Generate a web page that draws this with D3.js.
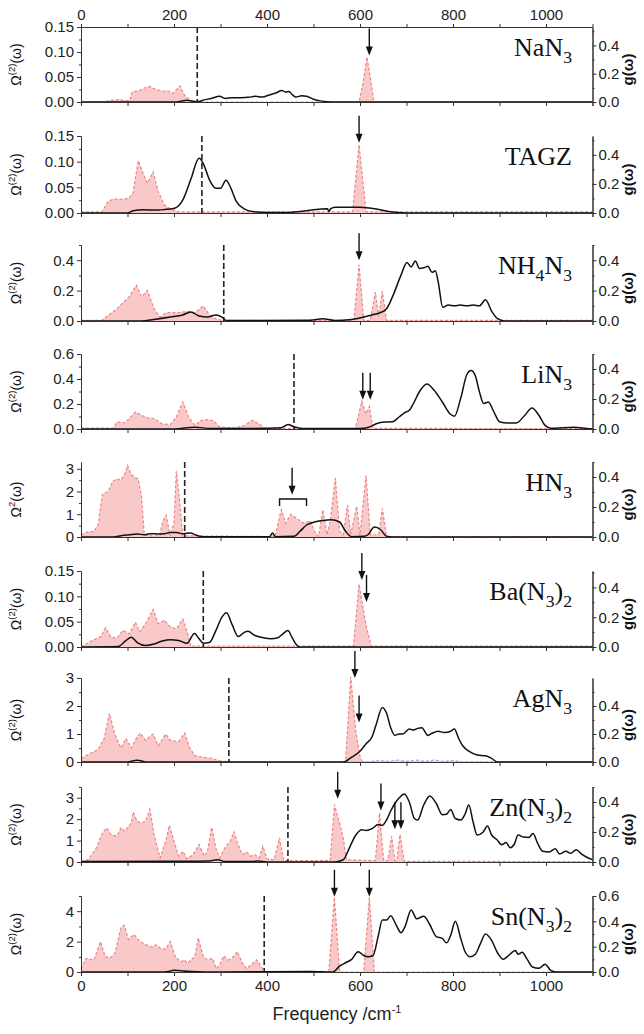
<!DOCTYPE html>
<html>
<head>
<meta charset="utf-8">
<script src="https://cdn.jsdelivr.net/npm/d3@7"></script>
<style>
  body { margin: 0; background: #fff; }
  text { font-family: "Liberation Sans", Arial, sans-serif; }
</style>
</head>
<body>
<svg id="chart" width="644" height="1034"></svg>
<script>
// ---------------- data ----------------
// Each series: [frequency (cm^-1), value]. Omega = two-phonon density (left axis), g = phonon DOS (right axis).
const compounds = ["NaN_3", "TAGZ", "NH_4N_3", "LiN_3", "HN_3", "Ba(N_3)_2", "AgN_3", "Zn(N_3)_2", "Sn(N_3)_2"];

const naN3Omega = [[0,0],[50,0],[62,0.003],[80,0.005],[95,0.003],[105,0.003],[110,0.02],[125,0.023],[139,0.029],[148,0.031],[161,0.025],[175,0.022],[188,0.022],[197,0.017],[213,0.032],[223,0.013],[236,0.003],[245,0],[598,0],[607,0.04],[615,0.09],[622,0.05],[630,0],[1100,0]];
const naN3G = [[0,0],[200,0],[215,0.005],[228,0.012],[240,0.005],[250,0.002],[265,0.015],[280,0.025],[298,0.04],[310,0.025],[325,0.03],[345,0.03],[360,0.033],[375,0.04],[390,0.035],[405,0.05],[420,0.065],[432,0.082],[440,0.07],[447,0.075],[455,0.05],[462,0.035],[475,0.045],[485,0.04],[500,0.02],[515,0.008],[530,0.002],[545,0],[1100,0]];

const tagzOmega = [[0,0.002],[45,0.002],[50,0.01],[59,0.023],[70,0.027],[95,0.027],[104,0.03],[112,0.039],[123,0.102],[135,0.074],[143,0.058],[155,0.08],[166,0.042],[179,0.016],[192,0.008],[210,0.002],[584,0.002],[598,0.133],[613,0.002],[1100,0.002]];
const tagzG = [[0,0],[100,0],[112,0.015],[135,0.022],[150,0.02],[166,0.02],[183,0.025],[201,0.032],[219,0.09],[236,0.23],[254,0.376],[263,0.34],[276,0.23],[290,0.17],[300,0.17],[312,0.225],[321,0.18],[334,0.08],[352,0.027],[369,0.01],[400,0.003],[440,0.003],[511,0.025],[530,0.03],[533,0.01],[537,0.03],[547,0.04],[600,0.04],[635,0.028],[662,0.01],[700,0],[1100,0]];

const nh4N3Omega = [[0,0.004],[45,0.004],[49,0.015],[77,0.08],[104,0.16],[119,0.235],[130,0.16],[143,0.2],[157,0.08],[170,0.026],[183,0.055],[210,0.055],[228,0.064],[245,0.055],[263,0.1],[276,0.04],[290,0.015],[303,0.004],[587,0.004],[598,0.37],[608,0.004],[622,0.004],[633,0.19],[640,0.03],[648,0.195],[657,0.004],[1100,0.004]];
const nh4N3G = [[0,0],[130,0],[157,0.01],[192,0.026],[219,0.04],[236,0.06],[254,0.033],[272,0.026],[290,0.04],[303,0.026],[312,0.004],[400,0.003],[493,0.005],[520,0.015],[545,0.004],[582,0.01],[600,0.02],[626,0.04],[644,0.055],[657,0.08],[670,0.16],[688,0.3],[701,0.385],[710,0.356],[719,0.395],[728,0.345],[737,0.35],[746,0.36],[755,0.32],[762,0.33],[768,0.26],[778,0.09],[790,0.105],[803,0.1],[816,0.105],[830,0.1],[843,0.105],[857,0.1],[870,0.14],[883,0.065],[896,0.015],[910,0],[1100,0]];

const liN3Omega = [[0,0.008],[70,0.008],[77,0.056],[95,0.05],[117,0.136],[130,0.11],[143,0.09],[157,0.083],[175,0.04],[192,0.035],[205,0.096],[219,0.216],[232,0.09],[245,0.03],[259,0.07],[272,0.075],[285,0.065],[298,0.016],[334,0.01],[352,0.03],[369,0.07],[383,0.04],[396,0.003],[590,0.003],[604,0.22],[613,0.12],[620,0.18],[628,0.005],[1100,0.003]];
const liN3G = [[0,0],[200,0],[245,0.012],[280,0.003],[352,0.003],[431,0.008],[445,0.03],[458,0.015],[476,0.004],[600,0.003],[617,0.01],[635,0.035],[653,0.046],[670,0.048],[684,0.08],[697,0.11],[706,0.125],[715,0.17],[728,0.25],[744,0.3],[759,0.26],[777,0.18],[794,0.1],[803,0.085],[817,0.21],[830,0.365],[839,0.39],[848,0.355],[857,0.246],[866,0.17],[876,0.18],[887,0.12],[901,0.046],[918,0.04],[936,0.04],[954,0.09],[970,0.14],[985,0.09],[998,0.024],[1011,0.005],[1060,0.012],[1087,0.004],[1100,0]];

const hN3Omega = [[0,0.1],[11,0.2],[28,0.25],[37,0.55],[46,1.87],[52,1.95],[59,2.0],[68,2.45],[77,2.55],[86,2.5],[95,2.8],[100,3.15],[108,2.75],[117,2.6],[123,2.55],[130,1.8],[136,0.1],[157,0.03],[170,0.1],[176,0.72],[183,0.95],[192,0.05],[200,0.6],[205,2.9],[212,1.6],[219,0.05],[405,0.02],[418,0.05],[427,0.9],[431,1.2],[440,0.6],[451,1.0],[458,0.9],[467,0.77],[480,0.6],[493,0.72],[502,0.25],[511,0.03],[520,1.2],[529,0.1],[536,0.7],[547,2.6],[556,0.25],[564,0.1],[573,1.4],[580,0.1],[593,1.35],[600,0.1],[613,2.7],[622,0.1],[640,0.1],[648,1.25],[657,0.02],[1100,0.02]];
const hN3G = [[0,0],[70,0],[86,0.009],[104,0.015],[121,0.02],[136,0.015],[148,0.022],[166,0.02],[179,0.022],[192,0.03],[205,0.03],[219,0.022],[236,0.027],[245,0.015],[263,0.002],[405,0.002],[412,0.027],[418,0.002],[458,0.005],[471,0.038],[485,0.08],[502,0.1],[520,0.11],[538,0.115],[556,0.1],[569,0.038],[582,0.002],[609,0.005],[617,0.015],[631,0.066],[644,0.05],[657,0.005],[670,0],[1100,0]];

const baN32Omega = [[0,0],[6,0.003],[24,0.013],[42,0.02],[53,0.038],[64,0.02],[77,0.017],[90,0.033],[104,0.026],[117,0.049],[126,0.03],[139,0.046],[155,0.074],[166,0.046],[179,0.053],[192,0.04],[205,0.036],[219,0.055],[228,0.03],[236,0.002],[586,0.002],[598,0.124],[613,0.043],[624,0.002],[1100,0.002]];
const baN32G = [[0,0],[80,0.003],[97,0.044],[108,0.066],[121,0.03],[139,0.01],[157,0.02],[175,0.04],[192,0.048],[210,0.044],[228,0.025],[244,0.09],[254,0.055],[263,0.026],[276,0.03],[290,0.11],[303,0.2],[313,0.23],[325,0.15],[338,0.07],[352,0.1],[359,0.105],[374,0.077],[392,0.062],[409,0.055],[423,0.062],[433,0.085],[445,0.11],[453,0.07],[462,0.02],[471,0],[1100,0]];

const agN3Omega = [[0,0.13],[15,0.26],[37,0.45],[50,0.84],[61,1.74],[73,0.97],[86,0.5],[97,0.84],[108,0.5],[121,0.9],[128,1.03],[139,0.77],[155,1.0],[166,0.58],[182,1.0],[192,0.77],[210,0.73],[223,1.03],[234,0.5],[245,0.22],[263,0.17],[281,0.13],[298,0.04],[316,0],[569,0],[580,3.03],[591,1.1],[600,0.2],[605,0],[1100,0]];
const agN3G = [[0,0],[100,0],[121,0.013],[140,0],[564,0],[582,0.034],[600,0.077],[613,0.13],[626,0.18],[635,0.27],[648,0.39],[657,0.35],[666,0.245],[675,0.19],[684,0.2],[692,0.2],[706,0.235],[715,0.228],[724,0.24],[733,0.245],[746,0.19],[755,0.205],[768,0.22],[781,0.21],[795,0.22],[803,0.235],[812,0.17],[821,0.116],[834,0.077],[852,0.05],[870,0.044],[883,0.026],[896,0],[1100,0]];
const agN3Partial = [[560,0],[620,0],[640,0.01],[660,0.004],[680,0.012],[700,0.005],[720,0.012],[740,0.005],[760,0.012],[780,0.004],[800,0.01],[820,0],[1100,0]];

const znN32Omega = [[0,0.03],[15,0.1],[33,0.65],[46,1.35],[55,1.59],[64,1.28],[77,1.2],[86,1.59],[95,1.43],[102,1.66],[108,1.82],[112,2.33],[121,1.9],[130,1.82],[139,1.9],[148,2.45],[157,1.28],[170,0.19],[182,0.96],[190,1.71],[199,1.04],[210,0.27],[219,0.5],[228,0.15],[241,0.34],[254,0.81],[265,0.27],[272,0.5],[281,1.62],[290,0.65],[298,0.19],[309,0.65],[321,0.96],[329,1.4],[338,0.8],[347,0.34],[356,0.47],[365,0.27],[374,0.34],[383,0.19],[391,0.73],[400,0.15],[415,0.1],[427,1.12],[436,0.06],[536,0.06],[545,2.68],[556,1.82],[564,1.12],[571,0.1],[633,0.06],[642,2.29],[651,0.06],[660,0.06],[668,1.2],[675,0.06],[679,0.06],[686,1.28],[695,0.03],[1100,0.02]];
const znN32G = [[0,0.003],[200,0.005],[254,0.005],[272,0.006],[294,0.015],[310,0.003],[369,0.003],[380,0.006],[400,0],[546,0],[564,0.015],[577,0.093],[591,0.18],[604,0.215],[613,0.21],[626,0.222],[639,0.25],[648,0.244],[657,0.28],[666,0.34],[675,0.39],[684,0.426],[695,0.453],[706,0.4],[717,0.29],[724,0.28],[737,0.38],[750,0.44],[764,0.39],[777,0.315],[786,0.318],[795,0.35],[805,0.29],[817,0.28],[826,0.32],[834,0.38],[843,0.27],[852,0.18],[865,0.2],[874,0.24],[883,0.18],[894,0.15],[905,0.115],[914,0.13],[923,0.095],[932,0.12],[940,0.18],[952,0.166],[963,0.164],[972,0.19],[982,0.125],[993,0.071],[1007,0.067],[1020,0.089],[1029,0.053],[1043,0.071],[1053,0.058],[1065,0.082],[1078,0.049],[1091,0.027],[1100,0.016]];

const snN32Omega = [[0,0.22],[11,0.9],[28,0.79],[42,2.0],[52,1.0],[64,0.95],[73,1.24],[86,2.9],[93,3.08],[102,2.13],[108,2.3],[114,2.47],[126,2.02],[139,1.8],[152,1.64],[161,1.8],[170,1.57],[182,1.5],[192,2.0],[203,1.0],[214,0.67],[223,0.79],[229,0.56],[236,0.79],[245,1.0],[252,2.25],[263,1.0],[272,0.79],[283,0.9],[291,0.22],[298,0.45],[307,1.06],[316,0.79],[325,0.9],[336,1.35],[347,0.6],[356,0.22],[369,0.56],[378,0.79],[387,0.38],[396,0],[533,0],[545,4.9],[556,0],[608,0],[620,4.9],[631,0],[1100,0]];
const snN32G = [[0,0],[180,0],[201,0.013],[236,0.004],[300,0],[493,0.004],[542,0],[556,0.046],[569,0.073],[582,0.1],[596,0.16],[608,0.13],[617,0.12],[628,0.13],[639,0.28],[648,0.41],[657,0.41],[666,0.445],[678,0.37],[688,0.31],[697,0.36],[710,0.49],[722,0.42],[737,0.44],[750,0.375],[764,0.28],[777,0.265],[786,0.23],[795,0.29],[805,0.4],[817,0.26],[826,0.16],[837,0.12],[848,0.14],[858,0.216],[870,0.3],[883,0.25],[896,0.15],[908,0.1],[918,0.125],[934,0.17],[940,0.14],[949,0.155],[958,0.11],[971,0.04],[985,0.03],[998,0.062],[1011,0.01],[1025,0],[1100,0]];

const omegaSeries = [naN3Omega, tagzOmega, nh4N3Omega, liN3Omega, hN3Omega, baN32Omega, agN3Omega, znN32Omega, snN32Omega];
const gSeries = [naN3G, tagzG, nh4N3G, liN3G, hN3G, baN32G, agN3G, znN32G, snN32G];

// Cut-off frequency marked by the vertical dashed line (cm^-1)
const cutoffFreq = [250, 260, 307, 458, 223, 263, 318, 445, 394];

// Arrows: [frequency, Omega value at the arrow tip]
const arrowMarks = [
  [[620, 0.093]],
  [[598, 0.137]],
  [[598, 0.4]],
  [[606, 0.235], [622, 0.235]],
  [[454, 1.86]],
  [[604, 0.132], [614, 0.089]],
  [[589, 3.0], [598, 1.41]],
  [[552, 2.95], [645, 2.4], [675, 1.53], [688, 1.53]],
  [[545, 4.95], [620, 4.95]]
];
// HN3 bracket: [from, to, Omega level]
const hn3Bracket = [427, 485, 1.67];

const leftMax = [0.15, 0.15, 0.5, 0.6, 3.3, 0.15, 3, 3.5, 5];
const rightMax = [0.53, 0.53, 0.5, 0.5, 0.5, 0.51, 0.6, 0.5, 0.6];
const leftTickLabels = [
  ["0.00", "0.05", "0.10", "0.15"],
  ["0.00", "0.05", "0.10", "0.15"],
  ["0.0", "0.2", "0.4"],
  ["0.0", "0.2", "0.4", "0.6"],
  ["0", "1", "2", "3"],
  ["0.00", "0.05", "0.10", "0.15"],
  ["0", "1", "2", "3"],
  ["0", "1", "2", "3"],
  ["0", "2", "4"]
];
const rightTickLabels = [
  ["0.0", "0.2", "0.4"], ["0.0", "0.2", "0.4"], ["0.0", "0.2", "0.4"],
  ["0.0", "0.2", "0.4"], ["0.0", "0.2", "0.4"], ["0.0", "0.2", "0.4"],
  ["0.0", "0.2", "0.4"], ["0.0", "0.2", "0.4"], ["0.0", "0.2", "0.4", "0.6"]
];
const freqTickLabels = ["0", "200", "400", "600", "800", "1000"];

// ---------------- layout ----------------
const svg = d3.select("#chart");
const plotLeft = 81, plotRight = 592.5;
const panelTop = [27, 136, 245, 354, 462, 571, 678, 787, 896];
const panelBottom = [102, 213, 321, 429, 537, 647, 762, 862, 972];

const x = d3.scaleLinear().domain([0, 1100]).range([plotLeft, plotRight]);
const freqMajor = freqTickLabels.map(Number);
const freqMinor = d3.range(100, 1101, 200);

const pinkFill = "#f9c8c8";
const pinkLine = "#ee8585";

function styleAxis(g, fontSize) {
  g.select(".domain").attr("stroke", "#333").attr("stroke-width", 1);
  g.selectAll(".tick line").attr("stroke", "#333").attr("stroke-width", 1);
  g.selectAll(".tick text").attr("fill", "#222").style("font-size", fontSize + "px")
    .style("font-family", "'Liberation Sans', Arial, sans-serif");
}

function drawFormula(sel, str, baseSize) {
  // "_d" marks a subscript character
  const parts = [];
  for (let i = 0; i < str.length; i++) {
    if (str[i] === "_") { parts.push({ t: str[i + 1], sub: true }); i++; }
    else parts.push({ t: str[i], sub: false });
  }
  let prevSub = false;
  const shift = Math.round(baseSize * 0.25);
  parts.forEach(p => {
    const ts = sel.append("tspan").text(p.t);
    if (p.sub) { ts.attr("font-size", baseSize * 0.68).attr("dy", prevSub ? 0 : shift); }
    else if (prevSub) { ts.attr("dy", -shift); }
    prevSub = p.sub;
  });
}

const areaGen = (y) => d3.area().x(d => x(d[0])).y0(y(0)).y1(d => y(d[1]));
const lineGen = (y, curve) => d3.line().x(d => x(d[0])).y(d => y(d[1])).curve(curve);

compounds.forEach((name, i) => {
  const top = panelTop[i], bottom = panelBottom[i];
  const yL = d3.scaleLinear().domain([0, leftMax[i]]).range([bottom, top]);
  const yR = d3.scaleLinear().domain([0, rightMax[i]]).range([bottom, top]);
  const g = svg.append("g");

  // two-phonon density: filled pink with dashed outline
  g.append("path").datum(omegaSeries[i]).attr("d", areaGen(yL))
    .attr("fill", pinkFill).attr("stroke", "none");
  g.append("path").datum(omegaSeries[i]).attr("d", lineGen(yL, d3.curveLinear))
    .attr("fill", "none").attr("stroke", pinkLine).attr("stroke-width", 1.2)
    .attr("stroke-dasharray", "3,2");

  if (name === "AgN_3") {
    g.append("path").datum(agN3Partial).attr("d", lineGen(yR, d3.curveMonotoneX))
      .attr("fill", "none").attr("stroke", "#a9a9e6").attr("stroke-width", 1.5)
      .attr("stroke-dasharray", "3,2");
  }

  // phonon density of states
  g.append("path").datum(gSeries[i]).attr("d", lineGen(yR, d3.curveMonotoneX))
    .attr("fill", "none").attr("stroke", "#111").attr("stroke-width", 1.5);

  // cut-off frequency
  g.append("line").attr("x1", x(cutoffFreq[i])).attr("x2", x(cutoffFreq[i]))
    .attr("y1", top).attr("y2", bottom)
    .attr("stroke", "#222").attr("stroke-width", 1.6).attr("stroke-dasharray", "6,3");

  // axes
  const lt = leftTickLabels[i].map(Number);
  const step = lt[1] - lt[0];
  const lMinor = d3.range(step / 2, leftMax[i] + 1e-9, step).filter(v => !lt.some(t => Math.abs(t - v) < 1e-9));
  const lAxis = g.append("g").attr("transform", `translate(${plotLeft},0)`)
    .call(d3.axisLeft(yL).tickValues(lt).tickFormat((d, k) => leftTickLabels[i][k]).tickSize(4).tickSizeOuter(0).tickPadding(3));
  styleAxis(lAxis, 15);
  const lAxisMinor = g.append("g").attr("transform", `translate(${plotLeft},0)`)
    .call(d3.axisLeft(yL).tickValues(lMinor).tickFormat("").tickSize(2).tickSizeOuter(0));
  styleAxis(lAxisMinor, 15);

  const rt = rightTickLabels[i].map(Number);
  const rMinor = d3.range(0.1, rightMax[i] + 1e-9, 0.2);
  const rAxis = g.append("g").attr("transform", `translate(${plotRight},0)`)
    .call(d3.axisRight(yR).tickValues(rt).tickFormat((d, k) => rightTickLabels[i][k]).tickSize(4).tickSizeOuter(0).tickPadding(2));
  styleAxis(rAxis, 15);
  const rAxisMinor = g.append("g").attr("transform", `translate(${plotRight},0)`)
    .call(d3.axisRight(yR).tickValues(rMinor).tickFormat("").tickSize(2).tickSizeOuter(0));
  styleAxis(rAxisMinor, 15);

  const bAxis = g.append("g").attr("transform", `translate(0,${bottom})`)
    .call(d3.axisBottom(x).tickValues(freqMajor.concat(freqMinor, [1100])).tickFormat(i === 8 ? (d => (freqMajor.includes(d) ? String(d) : "")) : "").tickSize(4).tickSizeOuter(0).tickPadding(4));
  styleAxis(bAxis, 15);

  if (i === 0) {
    const tAxis = g.append("g").attr("transform", `translate(0,${top})`)
      .call(d3.axisTop(x).tickValues(freqMajor.concat(freqMinor)).tickFormat(d => (freqMajor.includes(d) ? String(d) : "")).tickSize(3).tickSizeOuter(0).tickPadding(4));
    styleAxis(tAxis, 15);
  }

  // arrows
  arrowMarks[i].forEach(([f, v]) => {
    const ax = x(f), tip = yL(v);
    g.append("line").attr("x1", ax).attr("x2", ax).attr("y1", tip - 27).attr("y2", tip - 7)
      .attr("stroke", "#111").attr("stroke-width", 1.4);
    g.append("path").attr("d", `M${ax - 3.5},${tip - 9} L${ax + 3.5},${tip - 9} L${ax},${tip} Z`).attr("fill", "#111");
  });
  if (name === "HN_3") {
    const [b0, b1, lv] = hn3Bracket;
    const by = yL(lv);
    g.append("path").attr("d", `M${x(b0)},${by + 7} V${by} H${x(b1)} V${by + 7}`)
      .attr("fill", "none").attr("stroke", "#111").attr("stroke-width", 1.4);
  }

  // compound label
  const lab = g.append("text").attr("x", 572).attr("y", top + 29).attr("text-anchor", "end")
    .style("font-family", "'Liberation Serif', 'Times New Roman', serif").style("font-size", "26px").attr("fill", "#111");
  drawFormula(lab, name, 26);

  // axis titles
  const cy = (top + bottom) / 2;
  const lt2 = g.append("text").attr("transform", `translate(21,${cy}) rotate(-90)`).attr("text-anchor", "middle")
    .style("font-size", "14px").attr("fill", "#111");
  lt2.append("tspan").text("Ω");
  lt2.append("tspan").text(name === "HN_3" ? "2" : "(2)").attr("font-size", 9.5).attr("dy", -6);
  lt2.append("tspan").text("(ω)").attr("dy", 6);

  g.append("text").attr("transform", `translate(633,${cy + 5}) rotate(-90)`).attr("text-anchor", "middle")
    .style("font-size", "15px").style("font-weight", "bold").attr("fill", "#111").text("g(ω)");
});

// x-axis title
const xt = svg.append("text").attr("x", 337).attr("y", 1020).attr("text-anchor", "middle")
  .style("font-size", "18px").attr("fill", "#222");
xt.append("tspan").text("Frequency /cm");
xt.append("tspan").text("-1").attr("font-size", 11).attr("dy", -7);
</script>
</body>
</html>
